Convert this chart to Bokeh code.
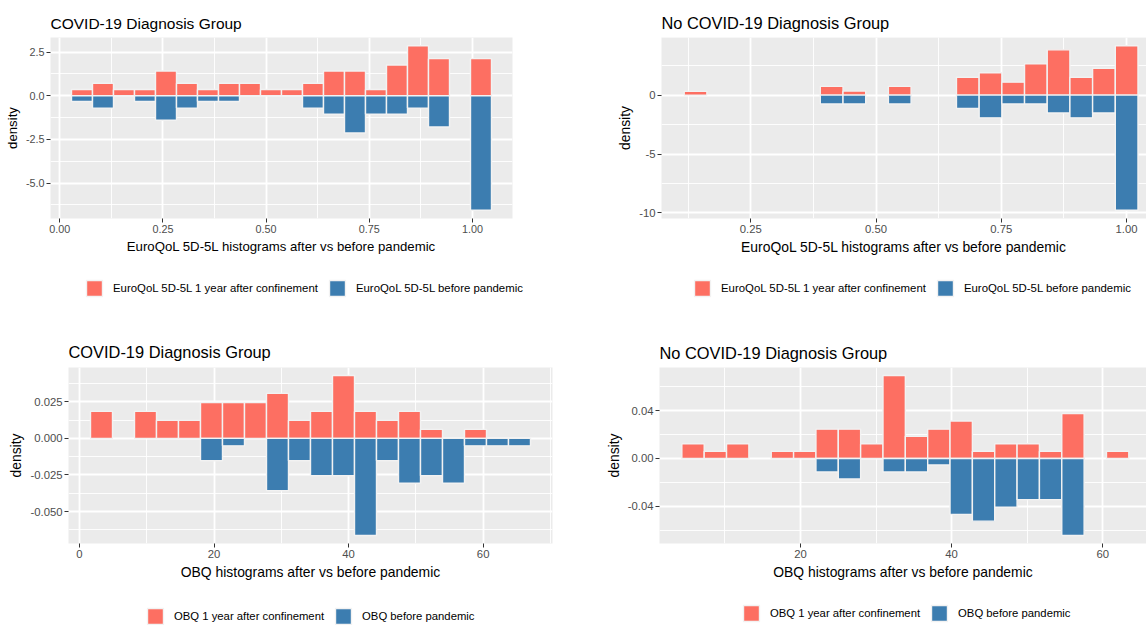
from bokeh.plotting import figure
from bokeh.models import Range1d, FixedTicker, NumeralTickFormatter, Legend, LegendItem, ColumnDataSource
from bokeh.layouts import column, row
from bokeh.embed import file_html
from bokeh.resources import INLINE

FONT = "Liberation Sans"
RED = "#FD6F62"
BLUE = "#3C7DB0"
EDGE = "#F2F2F2"
NAN = float("nan")

# ---------------- data (densities) ----------------
# EuroQoL 5D-5L, COVID-19 diagnosis group
eq_covid_bin_start = 0.0283
eq_covid_bin_width = 0.0509
eq_covid_after = [0.35, 0.71, 0.35, 0.35, 1.41, 0.71, 0.35, 0.71, 0.71, 0.35,
                  0.35, 0.71, 1.41, 1.41, 0.35, 1.76, 2.86, 2.12, 0.0, 2.12]
eq_covid_before = [0.33, 0.71, 0.0, 0.33, 1.41, 0.71, 0.33, 0.33, 0.0, 0.0,
                   0.0, 0.71, 1.06, 2.14, 1.06, 1.06, 0.71, 1.79, 0.0, 6.56]

# EuroQoL 5D-5L, no COVID-19 diagnosis group
eq_nocovid_bin_start = 0.117
eq_nocovid_bin_width = 0.0453
eq_nocovid_after = [0.32, 0.0, 0.0, 0.0, 0.0, 0.0, 0.74, 0.34, 0.0, 0.74,
                    0.0, 0.0, 1.52, 1.90, 1.10, 2.65, 3.84, 1.52, 2.28, 4.19]
eq_nocovid_before = [0.0, 0.0, 0.0, 0.0, 0.0, 0.0, 0.76, 0.76, 0.0, 0.76,
                     0.0, 0.0, 1.14, 1.93, 0.76, 0.76, 1.52, 1.93, 1.52, 9.77]

# OBQ, COVID-19 diagnosis group
obq_covid_bin_start = 1.64
obq_covid_bin_width = 3.27
obq_covid_after = [0.0184, 0.0, 0.0184, 0.0123, 0.0123, 0.0245, 0.0245, 0.0245, 0.0307, 0.0123,
                   0.0184, 0.0429, 0.0184, 0.0123, 0.0184, 0.0061, 0.0, 0.0061, 0.0, 0.0]
obq_covid_before = [0.0, 0.0, 0.0, 0.0, 0.0, 0.0153, 0.0051, 0.0, 0.0357, 0.0153,
                    0.0255, 0.0255, 0.0663, 0.0153, 0.0306, 0.0255, 0.0306, 0.0051, 0.0051, 0.0051]

# OBQ, no COVID-19 diagnosis group
obq_nocovid_bin_start = 4.30
obq_nocovid_bin_width = 2.958
obq_nocovid_after = [0.0123, 0.006, 0.0123, 0.0, 0.006, 0.006, 0.0245, 0.0245, 0.0123, 0.0694,
                     0.0185, 0.0245, 0.0313, 0.006, 0.0123, 0.0123, 0.006, 0.0376, 0.0, 0.006]
obq_nocovid_before = [0.0, 0.0, 0.0, 0.0, 0.0, 0.0, 0.0113, 0.0172, 0.0, 0.0113,
                      0.0113, 0.0055, 0.0468, 0.0525, 0.0408, 0.0345, 0.0345, 0.0645, 0.0, 0.0]

title_covid = "COVID-19 Diagnosis Group"
title_nocovid = "No COVID-19 Diagnosis Group"
xlab_eq = "EuroQoL 5D-5L histograms after vs before pandemic"
xlab_obq = "OBQ histograms after vs before pandemic"
leg_eq = ["EuroQoL 5D-5L 1 year after confinement", "EuroQoL 5D-5L before pandemic"]
leg_obq = ["OBQ 1 year after confinement", "OBQ before pandemic"]

eq_xticks_covid = [0.0, 0.25, 0.5, 0.75, 1.0]
eq_xticks_nocovid = [0.25, 0.5, 0.75, 1.0]
eq_xminor = [0.125, 0.375, 0.625, 0.875, 1.125]
obq_xticks = [0, 20, 40, 60]
obq_xminor = [10, 30, 50, 70]
eq_covid_yticks = [2.5, 0.0, -2.5, -5.0]
eq_covid_yminor = [3.75, 1.25, -1.25, -3.75, -6.25]
eq_nocovid_yticks = [5, 0, -5, -10]
eq_nocovid_yminor = [2.5, -2.5, -7.5]
obq_covid_yticks = [0.025, 0.0, -0.025, -0.05]
obq_covid_yminor = [0.0375, 0.0125, -0.0125, -0.0375, -0.0625]
obq_nocovid_yticks = [0.04, 0.0, -0.04]
obq_nocovid_yminor = [0.06, 0.02, -0.02, -0.06]


def style_quads(p, src_a, src_b):
    ra = p.quad(left="left", right="right", top="top", bottom="bottom", source=src_a,
                fill_color=RED, line_color=EDGE, line_width=1.4)
    rb = p.quad(left="left", right="right", top="top", bottom="bottom", source=src_b,
                fill_color=BLUE, line_color=EDGE, line_width=1.4)
    return ra, rb


def panel(title, xlab, start, bw, after, before, xt, xm, yt, ym, xfmt, yfmt,
          size, borders, title_standoff, fonts, x_visible_end=None):
    n = len(after)
    lefts = [start + i * bw for i in range(n)]
    lo, hi = lefts[0], lefts[-1] + bw
    pad = (hi - lo) * 0.05
    x0, x1 = lo - pad, hi + pad
    if x_visible_end is not None:
        x1 = x_visible_end
    ymax, ymin = max(after), -max(before)
    ypad = (ymax - ymin) * 0.05
    w, h = size
    bl, br, bt, bb = borders
    f_title, f_axis, f_tick = fonts
    p = figure(width=w, height=h, x_range=Range1d(x0, x1), y_range=Range1d(ymin - ypad, ymax + ypad),
               output_backend="svg", toolbar_location=None,
               min_border_left=bl, min_border_right=br, min_border_top=bt, min_border_bottom=bb,
               title=title)
    p.background_fill_color = "#EBEBEB"
    p.border_fill_color = "white"
    p.outline_line_color = None

    a = dict(left=[], right=[], top=[], bottom=[])
    b = dict(left=[], right=[], top=[], bottom=[])
    for l, va, vb in zip(lefts, after, before):
        if va > 0:
            a["left"].append(l); a["right"].append(l + bw); a["top"].append(va); a["bottom"].append(0)
        if vb > 0:
            b["left"].append(l); b["right"].append(l + bw); b["top"].append(0); b["bottom"].append(-vb)
    style_quads(p, ColumnDataSource(a), ColumnDataSource(b))

    xtk = FixedTicker(ticks=xt, minor_ticks=xm)
    ytk = FixedTicker(ticks=yt, minor_ticks=ym)
    p.xaxis[0].ticker = xtk
    p.yaxis[0].ticker = ytk
    p.xgrid[0].ticker = xtk
    p.ygrid[0].ticker = ytk
    p.xaxis[0].formatter = NumeralTickFormatter(format=xfmt)
    p.yaxis[0].formatter = NumeralTickFormatter(format=yfmt)
    p.xaxis.axis_label = xlab
    p.yaxis.axis_label = "density"
    for ax in (p.xaxis[0], p.yaxis[0]):
        ax.axis_line_color = None
        ax.major_tick_line_color = "#333333"
        ax.major_tick_line_width = 1
        ax.major_tick_out = 4
        ax.major_tick_in = 0
        ax.minor_tick_line_color = None
        ax.major_label_text_font = FONT
        ax.major_label_text_font_size = f_tick
        ax.major_label_text_color = "#4D4D4D"
        ax.major_label_standoff = 2
        ax.axis_label_text_font = FONT
        ax.axis_label_text_font_size = f_axis
        ax.axis_label_text_font_style = "normal"
        ax.axis_label_text_color = "black"
        ax.axis_label_standoff = 3
    for g in (p.xgrid[0], p.ygrid[0]):
        g.grid_line_color = "white"
        g.grid_line_width = 1.8
        g.minor_grid_line_color = "white"
        g.minor_grid_line_width = 0.9

    p.title.text_font = FONT
    p.title.text_font_size = f_title
    p.title.text_font_style = "normal"
    p.title.text_color = "black"
    p.title.align = "left"
    p.title.standoff = title_standoff
    return p


STRIP_FRAME_LEFT = 71


def legend_strip(size, entries):
    """One strip holding the legends of a row of panels.
    entries: list of (labels, glyph_left_px, glyph_top_px, font_size)"""
    w, h = size
    lp = figure(width=w, height=h, x_range=Range1d(0, 1), y_range=Range1d(0, 1),
                output_backend="svg", toolbar_location=None,
                min_border_left=STRIP_FRAME_LEFT, min_border_right=0, min_border_top=0, min_border_bottom=0,
                x_axis_location=None, y_axis_location=None)
    lp.outline_line_color = None
    lp.grid.visible = False
    lp.background_fill_color = "white"
    lp.border_fill_color = "white"
    gh = 20
    for labels, gx, gy, fs in entries:
        key = dict(left=[NAN], right=[NAN], top=[NAN], bottom=[NAN])  # legend key swatches only
        ra, rb = style_quads(lp, ColumnDataSource(key), ColumnDataSource(dict(key)))
        legend = Legend(items=[LegendItem(label=labels[0], renderers=[ra]),
                               LegendItem(label=labels[1], renderers=[rb])],
                        orientation="horizontal", location=(gx - STRIP_FRAME_LEFT, h - gy - gh), margin=0,
                        padding=0, spacing=9, label_standoff=9, glyph_width=20, glyph_height=gh,
                        label_height=gh, label_text_font=FONT, label_text_font_size=fs,
                        label_text_color="black", border_line_color=None, background_fill_alpha=0)
        lp.add_layout(legend, "center")
    return lp


p1 = panel(title_covid, xlab_eq, eq_covid_bin_start, eq_covid_bin_width, eq_covid_after, eq_covid_before,
           eq_xticks_covid, eq_xminor, eq_covid_yticks, eq_covid_yminor, "0.00", "0.0",
           (580, 268), (50, 68, 35, 50), 11, ("15.5px", "13.2px", "10.8px"))
p2 = panel(title_nocovid, xlab_eq, eq_nocovid_bin_start, eq_nocovid_bin_width, eq_nocovid_after, eq_nocovid_before,
           eq_xticks_nocovid, eq_xminor, eq_nocovid_yticks, eq_nocovid_yminor, "0.00", "0",
           (566, 268), (81, 0, 37, 49), 11, ("16.4px", "13.9px", "11.3px"), x_visible_end=1.04)
top_legends = legend_strip((1146, 52), [(leg_eq, 84, 10, "11.4px"), (leg_eq, 692, 10, "11.4px")])

p3 = panel(title_covid, xlab_obq, obq_covid_bin_start, obq_covid_bin_width, obq_covid_after, obq_covid_before,
           obq_xticks, obq_xminor, obq_covid_yticks, obq_covid_yminor, "0", "0.000",
           (580, 275), (68, 28, 47, 47), 14, ("16.4px", "13.9px", "11.3px"))
p4 = panel(title_nocovid, xlab_obq, obq_nocovid_bin_start, obq_nocovid_bin_width, obq_nocovid_after, obq_nocovid_before,
           obq_xticks, obq_xminor, obq_nocovid_yticks, obq_nocovid_yminor, "0", "0.00",
           (566, 275), (79, 0, 42, 52), 11, ("16.4px", "13.9px", "11.3px"), x_visible_end=65.8)
bottom_legends = legend_strip((1146, 30), [(leg_obq, 145, 11, "11.3px"), (leg_obq, 741, 8, "11.3px")])

layout = column(row(p1, p2), top_legends, row(p3, p4), bottom_legends)
open("out.html", "w").write(file_html(layout, INLINE))
